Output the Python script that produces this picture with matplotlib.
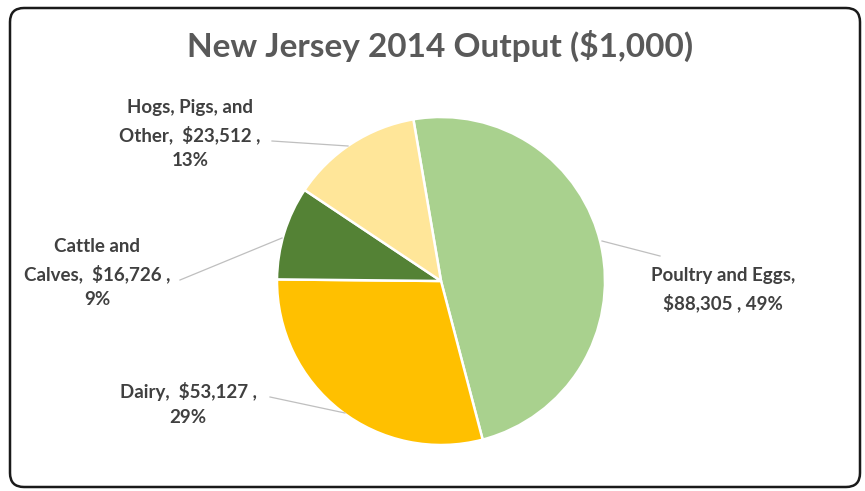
import matplotlib
matplotlib.use("Agg")
import matplotlib.pyplot as plt
from matplotlib.patches import FancyBboxPatch

categories = ["Poultry and Eggs", "Dairy", "Cattle and Calves", "Hogs, Pigs, and Other"]
values = [88305, 53127, 16726, 23512]
colors = ["#A9D18E", "#FFC000", "#548235", "#FFE699"]

W, H = 865, 491
fig = plt.figure(figsize=(W / 100, H / 100), dpi=100)
ax = fig.add_axes([0, 0, 1, 1])


def py(y):  # pixel row (top-down) -> data y
    return H - y


# rounded frame
ax.add_patch(FancyBboxPatch((10, py(487)), 860 - 10, 487 - 8,
                            boxstyle="round,pad=0,rounding_size=14",
                            fc="white", ec="#1a1a1a", lw=1.8, zorder=0))

ax.pie(values, colors=colors, startangle=99.7, counterclock=False,
       center=(441, py(281)), radius=164, frame=True,
       wedgeprops=dict(edgecolor="white", linewidth=1.8))
ax.set_xlim(0, W); ax.set_ylim(0, H); ax.set_aspect("equal"); ax.axis("off")

ax.text(440, py(46), "New Jersey 2014 Output ($1,000)", ha="center", va="center",
        fontsize=24, fontweight="bold", color="#595959", family="Lato")

total = sum(values)
pct = [f"{round(100 * v / total)}%" for v in values]
money = [f"${v:,}" for v in values]
txt = dict(fontsize=13.5, fontweight="bold", color="#404040", family="Lato",
           ha="center", va="center", linespacing=1.6)
ax.text(723, py(290), f"{categories[0]},\n{money[0]} , {pct[0]}", **txt)
ax.text(188, py(404), f"Dairy,  {money[1]} ,\n{pct[1]}", **txt)
ax.text(97, py(273), f"Cattle and\nCalves,  {money[2]} ,\n{pct[2]}", **txt)
ax.text(190, py(134), f"Hogs, Pigs, and\nOther,  {money[3]} ,\n{pct[3]}", **txt)

lc = dict(color="#BFBFBF", lw=0.9)
ax.plot([602, 660], [py(241), py(256)], **lc)
ax.plot([270, 345], [py(397), py(413)], **lc)
ax.plot([180, 282], [py(280), py(238)], **lc)
ax.plot([272, 348], [py(141), py(146)], **lc)

fig.savefig("out.png", dpi=100)
